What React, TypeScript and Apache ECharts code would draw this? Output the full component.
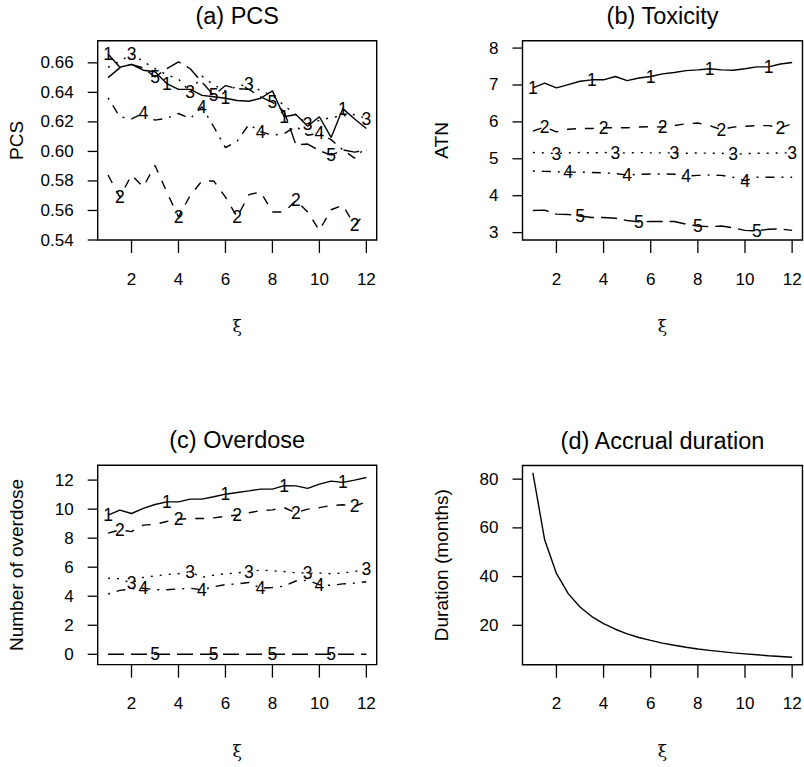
import React, { useEffect, useRef } from 'react';
import * as echarts from 'echarts';

// ---------- data ----------
const XI = [1, 1.5, 2, 2.5, 3, 3.5, 4, 4.5, 5, 5.5, 6, 6.5, 7, 7.5, 8, 8.5, 9, 9.5, 10, 10.5, 11, 11.5, 12];

const PCS_1 = [0.666, 0.657, 0.659, 0.655, 0.654, 0.646, 0.642, 0.642, 0.638, 0.637, 0.636, 0.6345, 0.634, 0.636, 0.641, 0.6235, 0.625, 0.617, 0.6235, 0.6095, 0.629, 0.622, 0.6155];
const PCS_2 = [0.584, 0.569, 0.584, 0.576, 0.5905, 0.5725, 0.5556, 0.5702, 0.58, 0.58, 0.569, 0.5556, 0.5707, 0.5725, 0.559, 0.559, 0.5668, 0.559, 0.5465, 0.5605, 0.5635, 0.5499, 0.559];
const PCS_3 = [0.657, 0.661, 0.666, 0.661, 0.656, 0.652, 0.649, 0.6404, 0.651, 0.645, 0.641, 0.644, 0.6458, 0.641, 0.638, 0.631, 0.625, 0.6183, 0.621, 0.623, 0.624, 0.625, 0.6223];
const PCS_4 = [0.6363, 0.6235, 0.622, 0.6257, 0.6212, 0.6225, 0.6257, 0.6223, 0.6302, 0.6167, 0.6025, 0.607, 0.6183, 0.6133, 0.611, 0.612, 0.617, 0.611, 0.6122, 0.608, 0.601, 0.5955, 0.603];
const PCS_5 = [0.65, 0.6566, 0.659, 0.6565, 0.6505, 0.656, 0.6607, 0.656, 0.647, 0.638, 0.6446, 0.6425, 0.642, 0.637, 0.6333, 0.627, 0.6045, 0.605, 0.6005, 0.5975, 0.601, 0.5995, 0.601];

const ATN_1 = [6.92, 7.05, 6.92, 7.01, 7.1, 7.14, 7.14, 7.23, 7.12, 7.19, 7.23, 7.3, 7.34, 7.39, 7.41, 7.44, 7.41, 7.4, 7.44, 7.49, 7.49, 7.57, 7.61];
const ATN_2 = [5.75, 5.86, 5.73, 5.8, 5.82, 5.82, 5.84, 5.84, 5.84, 5.86, 5.87, 5.86, 5.9, 5.95, 5.97, 5.9, 5.79, 5.86, 5.88, 5.9, 5.9, 5.84, 5.95];
const ATN_3 = [5.17, 5.16, 5.14, 5.16, 5.17, 5.16, 5.17, 5.16, 5.16, 5.17, 5.16, 5.16, 5.16, 5.15, 5.16, 5.15, 5.15, 5.12, 5.14, 5.15, 5.15, 5.16, 5.16];
const ATN_4 = [4.67, 4.66, 4.65, 4.64, 4.64, 4.63, 4.62, 4.6, 4.56, 4.58, 4.59, 4.59, 4.58, 4.53, 4.55, 4.56, 4.55, 4.5, 4.41, 4.5, 4.5, 4.5, 4.5];
const ATN_5 = [3.6, 3.61, 3.5, 3.49, 3.45, 3.41, 3.41, 3.39, 3.33, 3.29, 3.3, 3.3, 3.3, 3.23, 3.18, 3.16, 3.18, 3.13, 3.06, 3.05, 3.09, 3.1, 3.06];

const OD_1 = [9.59, 9.93, 9.7, 10.05, 10.32, 10.5, 10.5, 10.69, 10.69, 10.85, 11.03, 11.15, 11.26, 11.38, 11.38, 11.62, 11.6, 11.43, 11.72, 11.93, 11.84, 12.0, 12.18];
const OD_2 = [8.35, 8.57, 8.45, 8.9, 8.95, 9.15, 9.3, 9.35, 9.35, 9.4, 9.5, 9.6, 9.75, 9.9, 9.95, 10.1, 9.75, 10.0, 10.1, 10.25, 10.3, 10.2, 10.5];
const OD_3 = [5.25, 5.2, 4.9, 5.3, 5.4, 5.5, 5.55, 5.7, 5.3, 5.45, 5.55, 5.6, 5.7, 5.8, 5.75, 5.7, 5.62, 5.59, 5.6, 5.55, 5.6, 5.7, 5.86];
const OD_4 = [4.15, 4.4, 4.5, 4.55, 4.45, 4.45, 4.5, 4.55, 4.44, 4.65, 4.8, 4.85, 4.95, 4.55, 4.6, 4.7, 5.05, 5.1, 4.78, 4.75, 4.85, 4.9, 5.0];
const OD_5 = [0, 0, 0, 0, 0, 0, 0, 0, 0, 0, 0, 0, 0, 0, 0, 0, 0, 0, 0, 0, 0, 0, 0];

const DURATION = [82.6, 55.1, 41.3, 33.0, 27.5, 23.6, 20.7, 18.4, 16.5, 15.0, 13.8, 12.7, 11.8, 11.0, 10.3, 9.7, 9.2, 8.7, 8.3, 7.9, 7.5, 7.2, 6.9];

const X_TICKS = [2, 4, 6, 8, 10, 12];
const PCS_TICKS = [0.54, 0.56, 0.58, 0.6, 0.62, 0.64, 0.66];
const ATN_TICKS = [3, 4, 5, 6, 7, 8];
const OD_TICKS = [0, 2, 4, 6, 8, 10, 12];
const DUR_TICKS = [20, 40, 60, 80];

const TITLES = ['(a) PCS', '(b) Toxicity', '(c) Overdose', '(d) Accrual duration'];
const Y_NAMES = ['PCS', 'ATN', 'Number of overdose', 'Duration (months)'];
const X_NAME = 'ξ';
const CURVE_LABELS = ['1', '2', '3', '4', '5'];

// ---------- layout / style ----------
const FONT = '"Liberation Sans", Arial, Helvetica, sans-serif';
const PANELS = [
  { left: 97.7, top: 40.7, width: 279, height: 199.3, min: 0.54, max: 0.675, ticks: PCS_TICKS, dec: 2 },
  { left: 522.5, top: 40.7, width: 280, height: 199.3, min: 2.8, max: 8.2, ticks: ATN_TICKS, dec: 0 },
  { left: 97.7, top: 465.3, width: 279, height: 199.3, min: -0.71, max: 13.02, ticks: OD_TICKS, dec: 0 },
  { left: 522.5, top: 465.5, width: 280, height: 199.3, min: 3.8, max: 85.6, ticks: DUR_TICKS, dec: 0 },
];
const DASHES: any[] = ['solid', [9, 9], [2, 7], [2, 7, 9, 7], [16, 7]];
const TICK_STYLE = { stroke: '#000', lineWidth: 1.3 };

export default function App() {
  const ref = useRef<HTMLDivElement>(null);
  useEffect(() => {
    const chart = echarts.init(ref.current!, null, { renderer: 'svg' });
    const panelSeries = [
      [PCS_1, PCS_2, PCS_3, PCS_4, PCS_5],
      [ATN_1, ATN_2, ATN_3, ATN_4, ATN_5],
      [OD_1, OD_2, OD_3, OD_4, OD_5],
      [DURATION],
    ];
    const series: any[] = [];
    panelSeries.forEach((list, p) => {
      list.forEach((vals, k) => {
        series.push({
          type: 'line', xAxisIndex: p, yAxisIndex: p, data: XI.map((x, i) => [x, vals[i]]),
          symbol: 'none', showSymbol: false, silent: true, z: 2,
          lineStyle: { color: '#000', width: 1.4, type: DASHES[k], cap: 'butt' },
        });
      });
    });
    chart.setOption({
      animation: false,
      backgroundColor: '#fff',
      grid: PANELS.map((g) => ({ left: g.left, top: g.top, width: g.width, height: g.height, show: true, borderColor: '#000', borderWidth: 1.4, backgroundColor: 'transparent', containLabel: false })),
      xAxis: PANELS.map((_, p) => ({
        type: 'value', gridIndex: p, min: 0.56, max: 12.44,
        splitLine: { show: false }, axisLine: { show: false, onZero: false },
        axisTick: { show: false }, axisLabel: { show: false },
      })),
      yAxis: PANELS.map((g, p) => ({
        type: 'value', gridIndex: p, min: g.min, max: g.max,
        splitLine: { show: false }, axisLine: { show: false, onZero: false },
        axisTick: { show: false }, axisLabel: { show: false },
      })),
      series,
    });

    // ticks, tick labels and curve numbers placed through the axes' own scales
    const graphic: any[] = [];
    const txt = (x: number, y: number, text: string, size: number, align = 'center', font = FONT, rotation = 0) => ({
      type: 'text', x, y, rotation, silent: true, z: 10,
      style: { text, fontSize: size, fontFamily: font, fill: '#000', align, verticalAlign: 'middle' },
    });
    PANELS.forEach((g, p) => {
      const cx = g.left + g.width / 2;
      const bottom = g.top + g.height;
      graphic.push(txt(cx, g.top - 25, TITLES[p], 23.5));
      graphic.push(txt(cx, bottom + 86, X_NAME, 17, 'center', '"DejaVu Serif", "Liberation Serif", serif'));
      graphic.push(txt(g.left - 81, g.top + g.height / 2, Y_NAMES[p], 19, 'center', FONT, Math.PI / 2));
      X_TICKS.forEach((v) => {
        const px = chart.convertToPixel({ xAxisIndex: p } as any, v) as unknown as number;
        graphic.push({ type: 'line', silent: true, shape: { x1: px, y1: bottom, x2: px, y2: bottom + 13 }, style: TICK_STYLE });
        graphic.push(txt(px, bottom + 39, String(v), 17));
      });
      g.ticks.forEach((v) => {
        const py = chart.convertToPixel({ yAxisIndex: p } as any, v) as unknown as number;
        graphic.push({ type: 'line', silent: true, shape: { x1: g.left - 10, y1: py, x2: g.left, y2: py }, style: TICK_STYLE });
        graphic.push(txt(g.left - 24, py, v.toFixed(g.dec), 17, 'right'));
      });
      const list = panelSeries[p];
      if (list.length > 1) {
        list.forEach((vals, k) => {
          XI.forEach((x, i) => {
            if (i >= k && (i - k) % 5 === 0) {
              const pt = chart.convertToPixel({ gridIndex: p } as any, [x, vals[i]]) as unknown as number[];
              graphic.push(txt(pt[0], pt[1], CURVE_LABELS[k], 17.5));
            }
          });
        });
      }
    });
    chart.setOption({ graphic });
    return () => chart.dispose();
  }, []);
  return <div ref={ref} style={{ position: 'absolute', left: 0, top: 0, width: 804, height: 767, background: '#fff' }} />;
}
